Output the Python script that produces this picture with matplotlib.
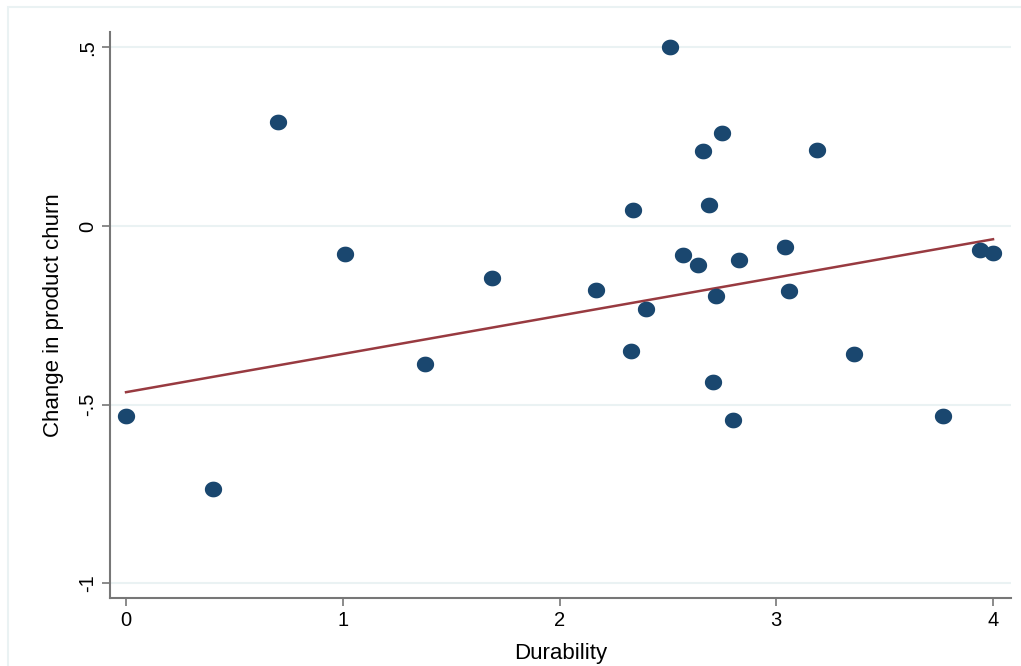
import numpy as np
import matplotlib.pyplot as plt
from matplotlib.patches import Rectangle
from matplotlib.path import Path

plt.rcParams['font.family'] = ['Liberation Sans', 'DejaVu Sans']

# durability scores and change in product churn
durability = [0.0, 0.40, 0.70, 1.01, 1.38, 1.69, 2.17, 2.33, 2.34, 2.40, 2.51,
              2.57, 2.64, 2.66, 2.69, 2.71, 2.72, 2.75, 2.80, 2.83, 3.04, 3.06,
              3.19, 3.36, 3.77, 3.94, 4.00]
churn = [-0.532, -0.736, 0.291, -0.078, -0.386, -0.146, -0.179, -0.350, 0.045,
         -0.232, 0.501, -0.081, -0.109, 0.210, 0.059, -0.437, -0.196, 0.260,
         -0.543, -0.095, -0.059, -0.182, 0.213, -0.358, -0.532, -0.067, -0.076]
# fitted line as drawn on the chart
fit_intercept = -0.465
fit_slope = 0.107
xticks = [0, 1, 2, 3, 4]
yticks = [-1, -0.5, 0, 0.5]
yticklabels = ['-1', '-.5', '0', '.5']

W, H = 1021, 666
fig = plt.figure(figsize=(W / 100, H / 100), dpi=100)
fig.patches.append(Rectangle((8 / W, -0.1), 1.2, 1 - 7 / H + 0.1, transform=fig.transFigure,
                             fill=False, edgecolor='#eaf2f3', linewidth=1.5))

ax = fig.add_axes([110 / W, 68 / H, 901 / W, 566 / H])

# slightly wide marker, like the original
t = np.linspace(0, 2 * np.pi, 60)
oval = Path(np.column_stack([1.1 * np.cos(t), np.sin(t)]), closed=True)

x = np.array(durability)
y = np.array(churn)
xl = np.array([x.min(), x.max()])
ax.plot(xl, fit_intercept + fit_slope * xl, color='#983a40', linewidth=1.8, zorder=2)
ax.scatter(x, y, s=155, marker=oval, color='#1a476f', zorder=3, linewidths=0)

ax.set_xlim(-0.074, 4.083)
ax.set_ylim(-1.041, 0.543)
ax.set_xticks(xticks)
ax.set_yticks(yticks)
ax.set_yticklabels(yticklabels, rotation=90, va='center')
ax.grid(axis='y', color='#eaf2f3', linewidth=1.5)
ax.set_axisbelow(True)

for s in ['top', 'right']:
    ax.spines[s].set_visible(False)
for s in ['left', 'bottom']:
    ax.spines[s].set_color('#777777')
    ax.spines[s].set_linewidth(1.5)
ax.tick_params(colors='#777777', labelcolor='black', labelsize=14.5, length=6, width=1.2)

ax.set_xlabel('Durability', fontsize=16, labelpad=9)
ax.set_ylabel('Change in product churn', fontsize=16, labelpad=10)

fig.savefig('out.png', dpi=100)
